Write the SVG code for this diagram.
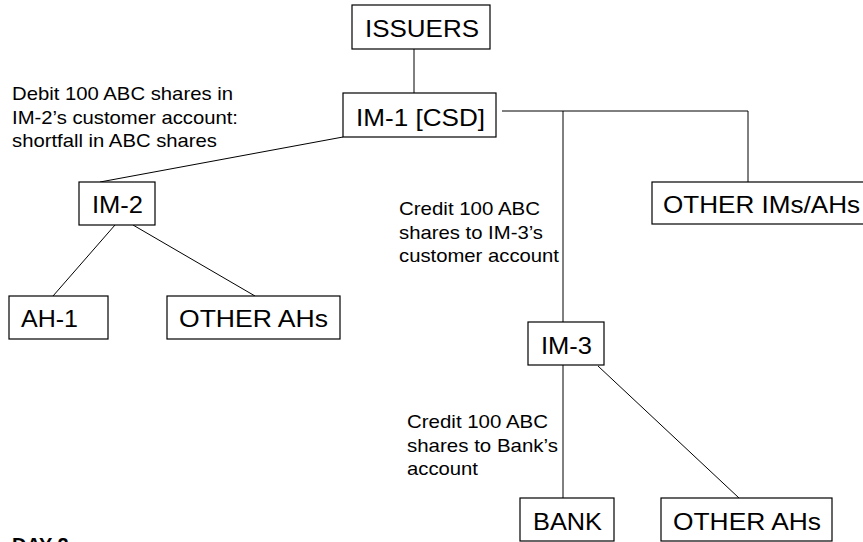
<svg xmlns="http://www.w3.org/2000/svg" width="863" height="542" viewBox="0 0 863 542">
<style>
  .box { fill: #ffffff; stroke: #000000; stroke-width: 1.2; }
  .shadow { fill: none; stroke: #9a9a9a; stroke-width: 1; }
  .node { font-family: "Liberation Sans", Arial, sans-serif; font-size: 24px; fill: #000000; }
  .lbl { font-family: "Liberation Sans", Arial, sans-serif; font-size: 19px; fill: #000000; }
  .day { font-family: "Liberation Sans", Arial, sans-serif; font-size: 20px; font-weight: bold; fill: #000000; }
  .conn line, .conn polyline { stroke: #000000; stroke-width: 1; fill: none; }
</style>
<rect x="0" y="0" width="863" height="542" fill="#ffffff"/>

<g id="connectors" class="conn">
  <line x1="414" y1="49" x2="414" y2="93"/>
  <line x1="343" y1="137" x2="100" y2="182"/>
  <polyline points="502,111 748,111 748,182"/>
  <line x1="563" y1="111" x2="563" y2="322"/>
  <line x1="563" y1="365" x2="563" y2="498"/>
  <line x1="598" y1="366" x2="739" y2="498"/>
  <line x1="115" y1="225" x2="53" y2="296"/>
  <line x1="133" y1="225" x2="255" y2="296"/>
</g>

<g id="issuers">
  <rect class="box" x="352" y="5" width="138" height="44"/>
  <text class="node" x="365" y="37" textLength="114" lengthAdjust="spacingAndGlyphs">ISSUERS</text>
</g>

<g id="im1">
  <rect class="box" x="343" y="93" width="153" height="44"/>
  <text class="node" x="356" y="126" textLength="129" lengthAdjust="spacingAndGlyphs">IM-1 [CSD]</text>
</g>

<g id="im2">
  <rect class="box" x="79" y="182" width="76" height="43"/>
  <text class="node" x="92" y="213" textLength="51" lengthAdjust="spacingAndGlyphs">IM-2</text>
</g>

<g id="ah1">
  <rect class="box" x="9" y="296" width="99" height="43"/>
  <text class="node" x="21" y="327" textLength="57" lengthAdjust="spacingAndGlyphs">AH-1</text>
</g>

<g id="other-ahs-left">
  <rect class="box" x="167" y="296" width="173" height="43"/>
  <text class="node" x="179" y="327" textLength="149" lengthAdjust="spacingAndGlyphs">OTHER AHs</text>
</g>

<g id="other-ims-ahs">
  <rect class="box" x="652" y="182" width="220" height="42"/>
  <text class="node" x="663" y="213" textLength="197" lengthAdjust="spacingAndGlyphs">OTHER IMs/AHs</text>
</g>

<g id="im3">
  <rect class="box" x="528" y="322" width="76" height="43"/>
  <text class="node" x="541" y="354" textLength="51" lengthAdjust="spacingAndGlyphs">IM-3</text>
</g>

<g id="bank">
  <rect class="box" x="520" y="498" width="94" height="43"/>
  <text class="node" x="533" y="530" textLength="69" lengthAdjust="spacingAndGlyphs">BANK</text>
</g>

<g id="other-ahs-right">
  <rect class="box" x="661" y="498" width="171" height="43"/>
  <text class="node" x="673" y="530" textLength="148" lengthAdjust="spacingAndGlyphs">OTHER AHs</text>
</g>

<g id="label-debit">
  <text class="lbl" x="12" y="100" textLength="221" lengthAdjust="spacingAndGlyphs">Debit 100 ABC shares in</text>
  <text class="lbl" x="12" y="123.5" textLength="226" lengthAdjust="spacingAndGlyphs">IM-2’s customer account:</text>
  <text class="lbl" x="12" y="147" textLength="205" lengthAdjust="spacingAndGlyphs">shortfall in ABC shares</text>
</g>

<g id="label-credit-im3">
  <text class="lbl" x="399" y="215" textLength="141" lengthAdjust="spacingAndGlyphs">Credit 100 ABC</text>
  <text class="lbl" x="399" y="238.5" textLength="144" lengthAdjust="spacingAndGlyphs">shares to IM-3’s</text>
  <text class="lbl" x="399" y="262" textLength="160" lengthAdjust="spacingAndGlyphs">customer account</text>
</g>

<g id="label-credit-bank">
  <text class="lbl" x="407" y="428" textLength="141" lengthAdjust="spacingAndGlyphs">Credit 100 ABC</text>
  <text class="lbl" x="407" y="451.5" textLength="151" lengthAdjust="spacingAndGlyphs">shares to Bank’s</text>
  <text class="lbl" x="407" y="475" textLength="71" lengthAdjust="spacingAndGlyphs">account</text>
</g>

<g id="day-title">
  <text class="day" x="12" y="552">DAY 2</text>
</g>
</svg>
